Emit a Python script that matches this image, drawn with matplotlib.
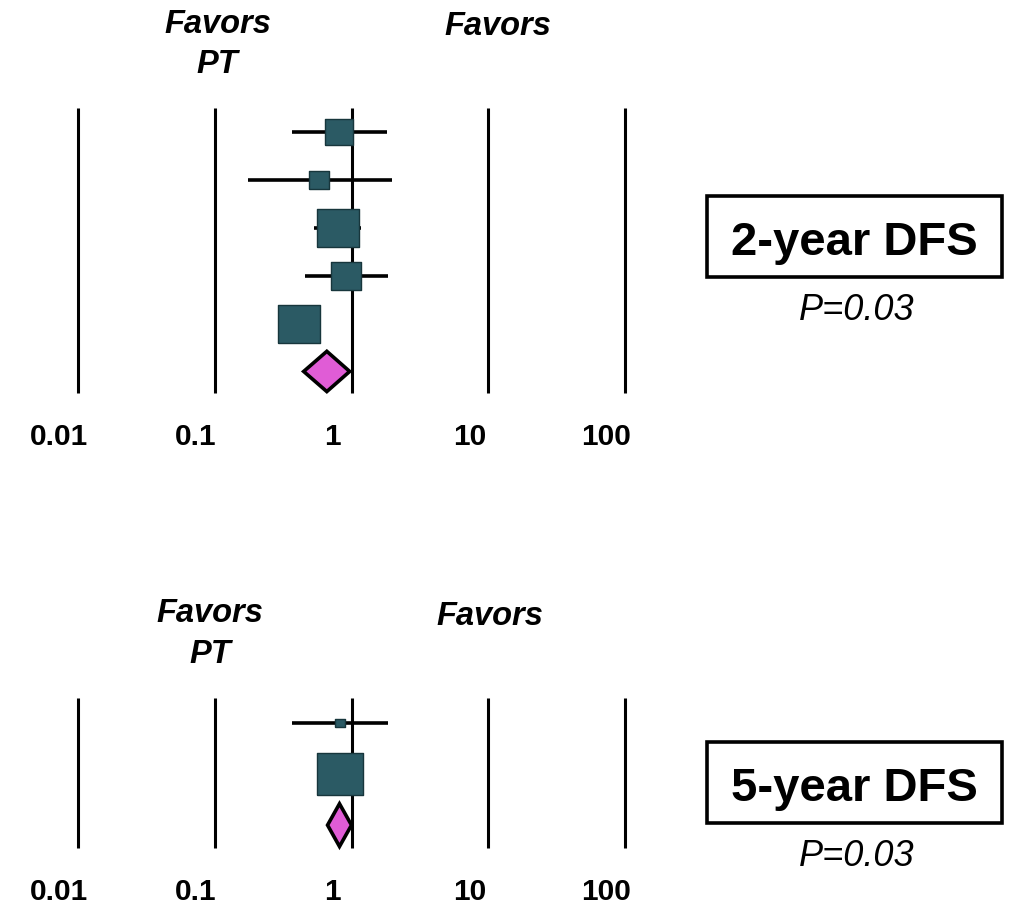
import matplotlib
matplotlib.use('Agg')
import matplotlib.pyplot as plt
from matplotlib.patches import Polygon, Rectangle
from matplotlib.transforms import offset_copy

# ---------------- data ----------------
# 2-year DFS (hazard ratios per study)
est_2y = [0.81, 0.58, 0.79, 0.91, 0.41]
lo_2y = [0.365, 0.174, 0.53, 0.454, 0.30]
hi_2y = [1.83, 1.99, 1.18, 1.86, 0.56]
wt_2y = [14.4, 7.5, 30.1, 16.4, 31.6]
pooled_2y_est, pooled_2y_lo, pooled_2y_hi = 0.66, 0.447, 0.97

# 5-year DFS
est_5y = [0.83, 0.82]
lo_5y = [0.365, 0.60]
hi_5y = [1.86, 1.10]
wt_5y = [4.5, 95.5]
pooled_5y_est, pooled_5y_lo, pooled_5y_hi = 0.817, 0.668, 1.0

tick_values = [0.01, 0.1, 1, 10, 100]
tick_labels = ['0.01', '0.1', '1', '10', '100']
panel_titles = ['2-year DFS', '5-year DFS']
p_texts = ['P=0.03', 'P=0.03']

# ---------------- style ----------------
W, H = 1013, 910
TEAL = '#2b5a64'
MAGENTA = '#e05cd6'
FONT = 'Liberation Sans'
plt.rcParams['font.family'] = [FONT, 'DejaVu Sans']

fig = plt.figure(figsize=(W / 100, H / 100), dpi=100)
fig.patch.set_facecolor('white')


def fx(px):
    return px / W


def fy(py):
    return 1 - py / H


ASPECT = 1.12
box_marker = [(-1, -1 / ASPECT), (1, -1 / ASPECT), (1, 1 / ASPECT), (-1, 1 / ASPECT), (-1, -1 / ASPECT)]


def panel(top_px, bot_px, est, lo, hi, wt, p_est, p_lo, p_hi, box_scale, ylim_bottom):
    ax = fig.add_axes([fx(78), fy(bot_px), fx(625) - fx(78), (bot_px - top_px) / H])
    ax.set_xscale('log')
    ax.set_xlim(0.01, 100)
    ax.set_ylim(ylim_bottom, -0.5)
    ax.axis('off')
    ax.vlines(tick_values, 0, 1, transform=ax.get_xaxis_transform(),
              color='black', lw=2.2, clip_on=False, zorder=1)
    rows = list(range(len(est)))
    ax.hlines(rows, lo, hi, color='black', lw=2.6, zorder=2)
    for r, e, w in zip(rows, est, wt):
        ax.plot([e], [r], marker=box_marker, ms=box_scale * w ** 0.5 * 0.72,
                mfc=TEAL, mec='#17363c', mew=1.0, zorder=3, clip_on=False)
    yd = len(est)
    h = 0.42
    ax.add_patch(Polygon([(p_lo, yd), (p_est, yd - h), (p_hi, yd), (p_est, yd + h)],
                         closed=True, fc=MAGENTA, ec='black', lw=2.6, zorder=4, clip_on=False))
    trans = offset_copy(ax.get_xaxis_transform(), fig=fig, x=-19, y=-52, units='dots')
    for v, lab in zip(tick_values, tick_labels):
        ax.text(v, 0, lab, transform=trans, ha='center', va='baseline',
                fontsize=21.5, fontweight='bold')
    return ax


panel(108, 393, est_2y, lo_2y, hi_2y, wt_2y, pooled_2y_est, pooled_2y_lo, pooled_2y_hi, 7.64, 5.45)
panel(698, 848, est_5y, lo_5y, hi_5y, wt_5y, pooled_5y_est, pooled_5y_lo, pooled_5y_hi, 4.71, 2.45)

# "Favors" headers
fav_kw = dict(ha='center', va='baseline', fontsize=23.5, fontweight='bold', fontstyle='italic')
fig.text(fx(218), fy(33), 'Favors', **fav_kw)
fig.text(fx(217), fy(73), 'PT', **fav_kw)
fig.text(fx(498), fy(35), 'Favors', **fav_kw)
fig.text(fx(210), fy(622), 'Favors', **fav_kw)
fig.text(fx(210), fy(663), 'PT', **fav_kw)
fig.text(fx(490), fy(625), 'Favors', **fav_kw)

# Framed panel labels
for (btop, bbot, tbase, pbase), title, ptxt in zip(
        [(196, 277, 255, 320), (742, 823, 801, 866)], panel_titles, p_texts):
    fig.add_artist(Rectangle((fx(707), fy(bbot)), fx(1002) - fx(707), (bbot - btop) / H,
                             transform=fig.transFigure, fill=False, ec='black', lw=2.6))
    fig.text(fx(854.5), fy(tbase), title, ha='center', va='baseline',
             fontsize=34, fontweight='bold')
    fig.text(fx(857), fy(pbase), ptxt, ha='center', va='baseline',
             fontsize=26, fontstyle='italic')

fig.savefig('out.png', dpi=100, facecolor='white')
